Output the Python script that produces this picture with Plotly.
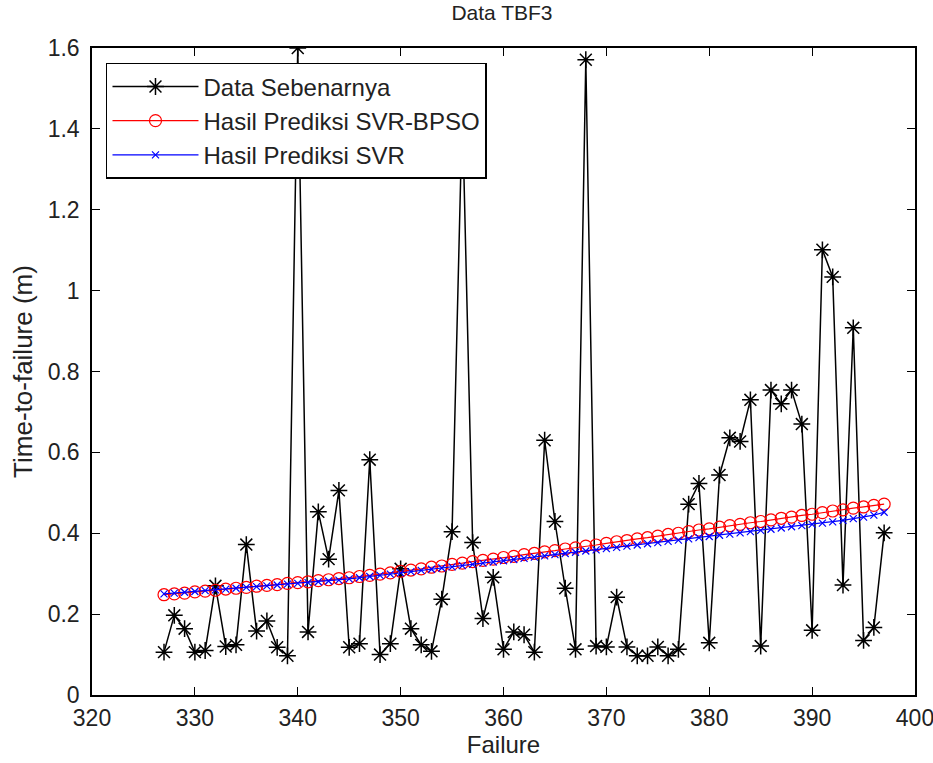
import plotly.graph_objects as go

failure = list(range(327, 398))

actual = [0.106, 0.197, 0.164, 0.106, 0.110, 0.270, 0.120, 0.124, 0.372, 0.158,
          0.183, 0.118, 0.097, 1.600, 0.156, 0.453, 0.336, 0.506, 0.118, 0.127,
          0.582, 0.100, 0.127, 0.312, 0.164, 0.124, 0.108, 0.237, 0.404, 1.450,
          0.377, 0.189, 0.291, 0.113, 0.156, 0.149, 0.106, 0.630, 0.429, 0.264,
          0.113, 1.571, 0.121, 0.119, 0.242, 0.119, 0.097, 0.097, 0.119, 0.097,
          0.113, 0.472, 0.523, 0.129, 0.544, 0.636, 0.627, 0.730, 0.121, 0.754,
          0.720, 0.754, 0.670, 0.160, 1.101, 1.034, 0.272, 0.908, 0.135, 0.167,
          0.401]

svr_bpso = [0.248, 0.250, 0.252, 0.255, 0.257, 0.259, 0.262, 0.264, 0.266, 0.269,
            0.271, 0.273, 0.276, 0.278, 0.280, 0.283, 0.285, 0.288, 0.290, 0.293,
            0.296, 0.299, 0.302, 0.306, 0.309, 0.312, 0.316, 0.319, 0.323, 0.326,
            0.330, 0.333, 0.336, 0.340, 0.343, 0.347, 0.350, 0.354, 0.357, 0.361,
            0.364, 0.368, 0.371, 0.375, 0.379, 0.382, 0.386, 0.389, 0.393, 0.397,
            0.400, 0.404, 0.408, 0.411, 0.415, 0.419, 0.422, 0.426, 0.429, 0.433,
            0.437, 0.440, 0.444, 0.447, 0.451, 0.455, 0.458, 0.462, 0.465, 0.469,
            0.472]

svr = [0.250, 0.252, 0.254, 0.256, 0.258, 0.260, 0.262, 0.264, 0.266, 0.268,
       0.270, 0.272, 0.274, 0.276, 0.278, 0.280, 0.282, 0.284, 0.287, 0.290,
       0.293, 0.296, 0.299, 0.302, 0.305, 0.308, 0.311, 0.314, 0.317, 0.320,
       0.323, 0.326, 0.329, 0.332, 0.335, 0.338, 0.341, 0.344, 0.347, 0.350,
       0.353, 0.356, 0.359, 0.362, 0.365, 0.368, 0.371, 0.374, 0.377, 0.380,
       0.383, 0.386, 0.389, 0.392, 0.395, 0.398, 0.401, 0.404, 0.407, 0.410,
       0.413, 0.416, 0.419, 0.422, 0.425, 0.428, 0.432, 0.436, 0.440, 0.445,
       0.452]

x_ticks = [320, 330, 340, 350, 360, 370, 380, 390, 400]
y_ticks = [0, 0.2, 0.4, 0.6, 0.8, 1.0, 1.2, 1.4, 1.6]
y_tick_labels = ["0", "0.2", "0.4", "0.6", "0.8", "1", "1.2", "1.4", "1.6"]

FONT = "Liberation Sans, Arial, sans-serif"
tick_font = dict(family=FONT, size=23, color="#222222")

fig = go.Figure()
fig.add_trace(go.Scatter(
    x=failure, y=actual, mode="lines+markers", name="Data Sebenarnya",
    legendgroup="a",
    line=dict(color="black", width=1.5),
    marker=dict(symbol="asterisk-open", size=14, color="black", line=dict(color="black", width=1.5)),
))
fig.add_trace(go.Scatter(
    x=failure, y=svr_bpso, mode="lines+markers", name="Hasil Prediksi SVR-BPSO",
    legendgroup="b",
    line=dict(color="red", width=1.2),
    marker=dict(symbol="circle-open", size=12, color="red", line=dict(color="red", width=1.2)),
))
fig.add_trace(go.Scatter(
    x=failure, y=svr, mode="lines+markers", name="Hasil Prediksi SVR",
    legendgroup="c",
    line=dict(color="blue", width=1.2),
    marker=dict(symbol="x-thin-open", size=7, color="blue", line=dict(color="blue", width=1.2)),
))

fig.update_layout(
    width=933, height=763,
    margin=dict(l=92, r=18, t=48, b=68, autoexpand=False),
    paper_bgcolor="white", plot_bgcolor="white",
    title=dict(text="Data TBF3", x=0.538, xanchor="center", y=0.993, yanchor="top",
               font=dict(family=FONT, size=21, color="#222222")),
    showlegend=True,
    legend=dict(
        x=0.017, y=0.977, xanchor="left", yanchor="top",
        bgcolor="white", bordercolor="black", borderwidth=1.5,
        font=dict(family=FONT, size=24, color="#222222"),
        itemwidth=86, tracegroupgap=0,
    ),
    xaxis=dict(
        range=[320, 400], tickvals=x_ticks, ticktext=[str(v) for v in x_ticks],
        ticks="inside", ticklen=8, tickcolor="black", showgrid=False, zeroline=False,
        showline=True, linecolor="black", linewidth=1.5, mirror="ticks",
        tickfont=tick_font, automargin=False, ticklabelstandoff=2,
        ticklabeloverflow="allow",
        title=dict(text="Failure", font=dict(family=FONT, size=24, color="#222222"), standoff=6),
    ),
    yaxis=dict(
        range=[0, 1.6], tickvals=y_ticks, ticktext=y_tick_labels,
        ticks="inside", ticklen=8, tickcolor="black", showgrid=False, zeroline=False,
        showline=True, linecolor="black", linewidth=1.5, mirror="ticks",
        tickfont=tick_font, automargin=False, ticklabelstandoff=6,
        ticklabeloverflow="allow",
        title=dict(text="Time-to-failure (m)", font=dict(family=FONT, size=26, color="#222222"), standoff=8),
    ),
)

fig.write_html("out.html",
               config={"displayModeBar": False},
               post_script="document.body.style.margin='0';document.body.style.overflow='hidden';")
